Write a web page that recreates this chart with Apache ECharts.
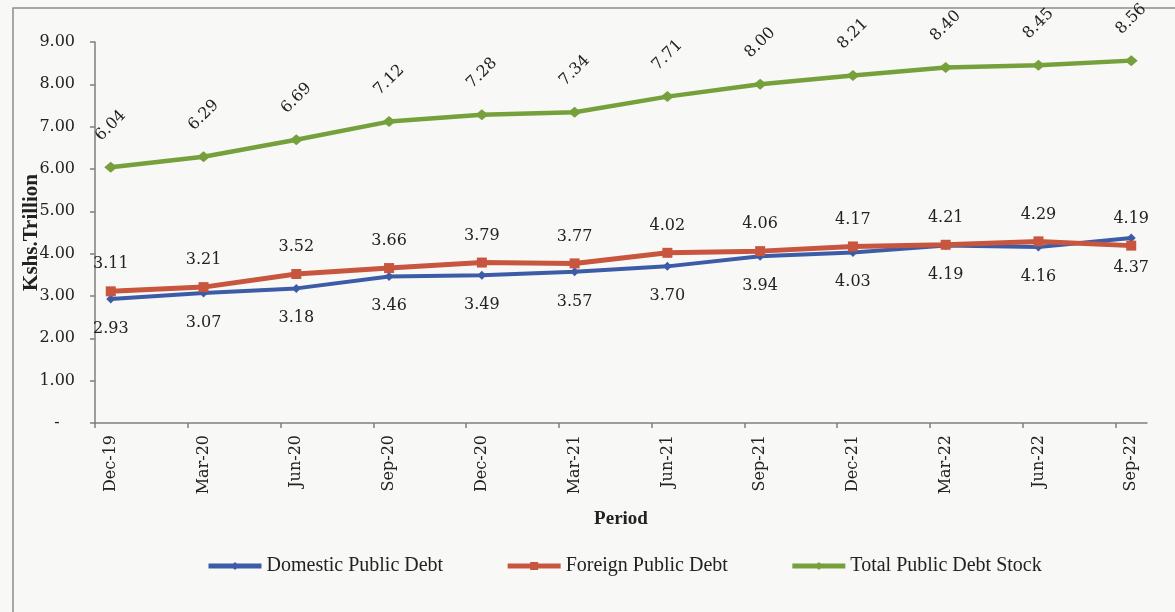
<!DOCTYPE html>
<html>
<head>
<meta charset="utf-8">
<script src="https://cdn.jsdelivr.net/npm/echarts@6/dist/echarts.min.js"></script>
<style>
  html, body { margin: 0; padding: 0; background: #f8f8f6; }
  #debt-chart { width: 1175px; height: 612px; }
</style>
</head>
<body>
<div id="debt-chart"></div>
<script>
// periods on the x axis
const categories = ['Dec-19', 'Mar-20', 'Jun-20', 'Sep-20', 'Dec-20', 'Mar-21', 'Jun-21', 'Sep-21', 'Dec-21', 'Mar-22', 'Jun-22', 'Sep-22']
// Kshs. trillion
const domestic = [2.93, 3.07, 3.18, 3.46, 3.49, 3.57, 3.70, 3.94, 4.03, 4.19, 4.16, 4.37]
const foreign = [3.11, 3.21, 3.52, 3.66, 3.79, 3.77, 4.02, 4.06, 4.17, 4.21, 4.29, 4.19]
const total = [6.04, 6.29, 6.69, 7.12, 7.28, 7.34, 7.71, 8.00, 8.21, 8.40, 8.45, 8.56]

const numFont = 'DejaVu Serif'
const txtFont = 'Liberation Serif'

// excel puts the ticks a bit left of each point
const tickShift = 0.17
const labelPos = categories.map((c, i) => i)
const tickPos = categories.map((c, i) => i - tickShift)

const toPairs = arr => arr.map((v, i) => [i, v])
const fmt = p => p.value[1].toFixed(2)

const chart = echarts.init(document.getElementById('debt-chart'))

const option = {
  backgroundColor: '#f8f8f6',
  animation: false,
  graphic: [{
    type: 'rect',
    shape: { x: 13, y: 8, width: 1200, height: 700 },
    style: { fill: 'none', stroke: '#8c8c8c', lineWidth: 1.5 },
    silent: true
  }],
  grid: {
    left: 95,
    right: 28,
    top: 42,
    bottom: 189
  },
  legend: {
    bottom: 31,
    left: 201,
    itemGap: 62,
    itemWidth: 53,
    itemHeight: 10,
    lineStyle: { width: 5 },
    textStyle: {
      fontFamily: txtFont,
      fontSize: 20,
      color: '#222'
    },
    data: ['Domestic Public Debt', 'Foreign Public Debt', 'Total Public Debt Stock']
  },
  xAxis: {
    type: 'value',
    min: -tickShift,
    max: categories.length - 1 + tickShift,
    name: 'Period',
    nameLocation: 'middle',
    nameGap: 87,
    nameMoveOverlap: false,
    nameTextStyle: {
      fontFamily: txtFont,
      fontWeight: 'bold',
      fontSize: 19,
      color: '#222'
    },
    splitLine: { show: false },
    axisLine: {
      show: true,
      onZero: false,
      lineStyle: { color: '#7f7f7f', width: 1.5 }
    },
    axisTick: {
      show: true,
      length: 5,
      customValues: tickPos,
      lineStyle: { color: '#7f7f7f', width: 1.5 }
    },
    axisLabel: {
      rotate: 90,
      margin: 12,
      customValues: labelPos,
      fontFamily: numFont,
      fontSize: 16,
      color: '#222',
      formatter: v => categories[Math.round(v)]
    }
  },
  yAxis: {
    type: 'value',
    min: 0,
    max: 9,
    interval: 1,
    name: 'Kshs.Trillion',
    nameLocation: 'middle',
    nameGap: 53,
    nameMoveOverlap: false,
    nameTextStyle: {
      fontFamily: txtFont,
      fontWeight: 'bold',
      fontSize: 21,
      color: '#222'
    },
    splitLine: { show: false },
    axisLine: {
      show: true,
      onZero: false,
      lineStyle: { color: '#7f7f7f', width: 1.5 }
    },
    axisTick: {
      show: true,
      length: 5,
      lineStyle: { color: '#7f7f7f', width: 1.5 }
    },
    axisLabel: {
      margin: 20,
      fontFamily: numFont,
      fontSize: 16,
      color: '#222',
      formatter: v => v === 0 ? '-\u00a0\u00a0\u00a0' : v.toFixed(2)
    }
  },
  series: [
    {
      name: 'Domestic Public Debt',
      type: 'line',
      data: toPairs(domestic),
      symbol: 'diamond',
      symbolSize: 9,
      lineStyle: { width: 4, color: '#3c5ca8' },
      itemStyle: { color: '#3c5ca8' },
      label: {
        show: true,
        position: 'bottom',
        distance: 25,
        verticalAlign: 'middle',
        fontFamily: numFont,
        fontSize: 16,
        color: '#222',
        formatter: fmt
      },
      z: 2
    },
    {
      name: 'Foreign Public Debt',
      type: 'line',
      data: toPairs(foreign),
      symbol: 'rect',
      symbolSize: 10,
      lineStyle: { width: 5, color: '#c8553d' },
      itemStyle: { color: '#c8553d' },
      label: {
        show: true,
        position: 'top',
        distance: 22,
        verticalAlign: 'middle',
        fontFamily: numFont,
        fontSize: 16,
        color: '#222',
        formatter: fmt
      },
      z: 3
    },
    {
      name: 'Total Public Debt Stock',
      type: 'line',
      data: toPairs(total),
      symbol: 'diamond',
      symbolSize: [13, 11],
      lineStyle: { width: 4.5, color: '#76a03c' },
      itemStyle: { color: '#76a03c' },
      label: {
        show: true,
        position: 'top',
        distance: 36,
        rotate: 45,
        align: 'center',
        verticalAlign: 'middle',
        fontFamily: numFont,
        fontSize: 16,
        color: '#222',
        formatter: fmt
      },
      z: 2
    }
  ]
}

chart.setOption(option)
</script>
</body>
</html>
